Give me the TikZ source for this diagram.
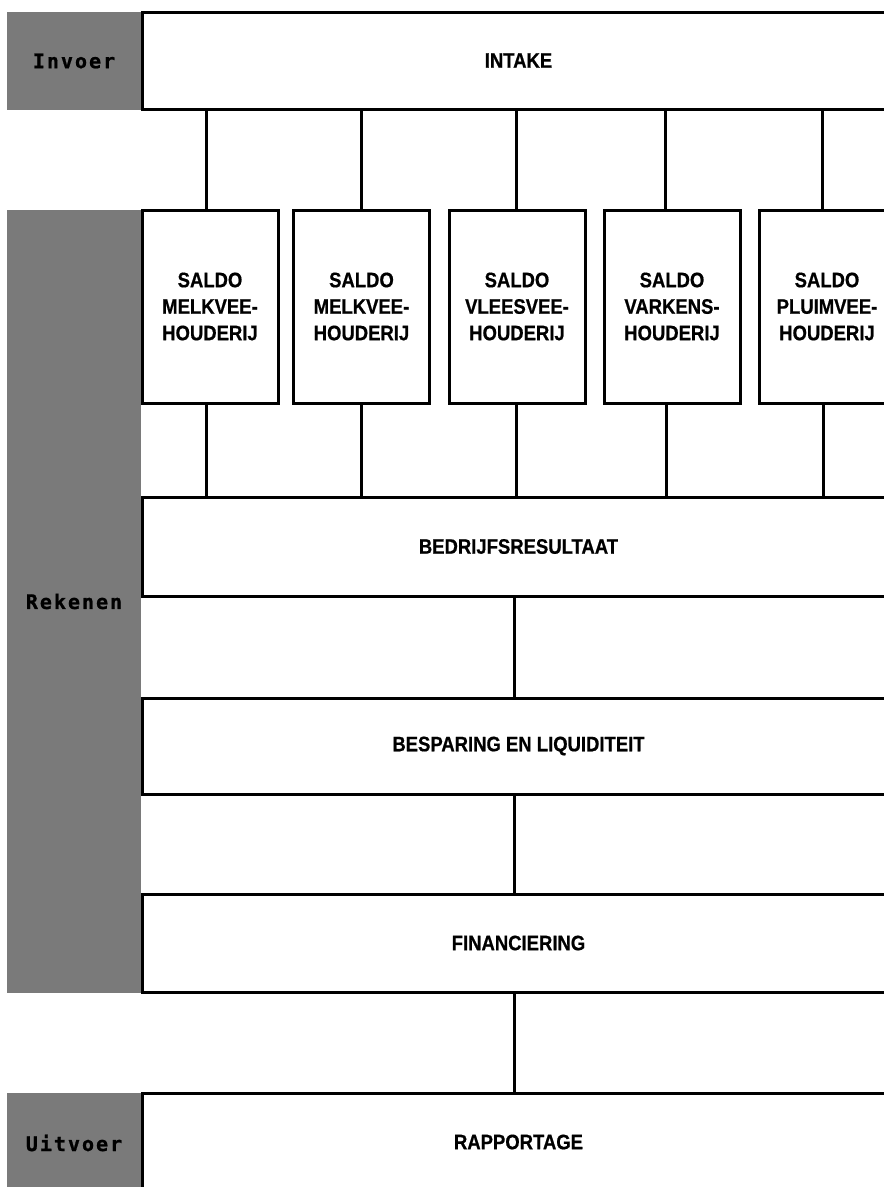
\documentclass[tikz,border=0pt]{standalone}
\usepackage{fontspec}
\newfontfamily\boxfont[FakeStretch=0.88,FakeBold=0.6]{Liberation Sans}
\newfontfamily\labfont[LetterSpace=10,FakeBold=1]{DejaVu Sans Mono}
\begin{document}
\begin{tikzpicture}[x=1pt,y=-1pt,
  box/.style={draw,line width=3pt,rectangle,inner sep=0pt,align=center,
    font=\boxfont\bfseries\fontsize{21}{26.5}\selectfont},
  bigbox/.style={box,minimum width=753pt},
  saldobox/.style={box,minimum width=136pt,minimum height=193pt},
  shadebox/.style={fill=black!52,inner sep=0pt,minimum width=134pt,
    font=\labfont\bfseries\fontsize{20}{20}\selectfont},
  conn/.style={line width=3pt}]
\clip (0,0) rectangle (884,1187);
\fill[white] (0,0) rectangle (884,1187);
% side labels
\node[shadebox,minimum height=98pt] (invoer) at (74,61) {Invoer};
\node[shadebox,minimum height=783pt] (rekenen) at (74,601.5) {Rekenen};
\node[shadebox,minimum height=100pt] (uitvoer) at (74,1143) {Uitvoer};
% main boxes
\node[bigbox,minimum height=97pt] (intake) at (518.5,60.5) {INTAKE};
\node[saldobox] (s1) at (210,306.5) {SALDO\\MELKVEE-\\HOUDERIJ};
\node[saldobox] (s2) at (361.5,306.5) {SALDO\\MELKVEE-\\HOUDERIJ};
\node[saldobox] (s3) at (517,306.5) {SALDO\\VLEESVEE-\\HOUDERIJ};
\node[saldobox] (s4) at (672,306.5) {SALDO\\VARKENS-\\HOUDERIJ};
\node[saldobox] (s5) at (827,306.5) {SALDO\\PLUIMVEE-\\HOUDERIJ};
\node[bigbox,minimum height=99pt] (bedrijf) at (518.5,546.5) {BEDRIJFSRESULTAAT};
\node[bigbox,minimum height=96pt] (besparing) at (518.5,746) {BESPARING EN LIQUIDITEIT};
\node[bigbox,minimum height=98pt] (financiering) at (518.5,943) {FINANCIERING};
\node[bigbox,minimum height=98pt] (rapportage) at (518.5,1142) {RAPPORTAGE};
% connectors intake -> saldo
\draw[conn] ([xshift=-312.5pt]intake.south) -- ([xshift=-4pt]s1.north);
\draw[conn] ([xshift=-157.5pt]intake.south) -- ([xshift=-0.5pt]s2.north);
\draw[conn] ([xshift=-2.5pt]intake.south) -- ([xshift=-1pt]s3.north);
\draw[conn] ([xshift=146.5pt]intake.south) -- ([xshift=-7pt]s4.north);
\draw[conn] ([xshift=303.5pt]intake.south) -- ([xshift=-5pt]s5.north);
% connectors saldo -> bedrijfsresultaat
\draw[conn] ([xshift=-4pt]s1.south) -- ([xshift=-312.5pt]bedrijf.north);
\draw[conn] ([xshift=-0.5pt]s2.south) -- ([xshift=-157.5pt]bedrijf.north);
\draw[conn] ([xshift=-1pt]s3.south) -- ([xshift=-2.5pt]bedrijf.north);
\draw[conn] ([xshift=-6pt]s4.south) -- ([xshift=147.5pt]bedrijf.north);
\draw[conn] ([xshift=-4pt]s5.south) -- ([xshift=304.5pt]bedrijf.north);
% vertical chain
\draw[conn] ([xshift=-4.5pt]bedrijf.south) -- ([xshift=-4.5pt]besparing.north);
\draw[conn] ([xshift=-4.5pt]besparing.south) -- ([xshift=-4.5pt]financiering.north);
\draw[conn] ([xshift=-4.5pt]financiering.south) -- ([xshift=-4.5pt]rapportage.north);
\end{tikzpicture}
\end{document}
